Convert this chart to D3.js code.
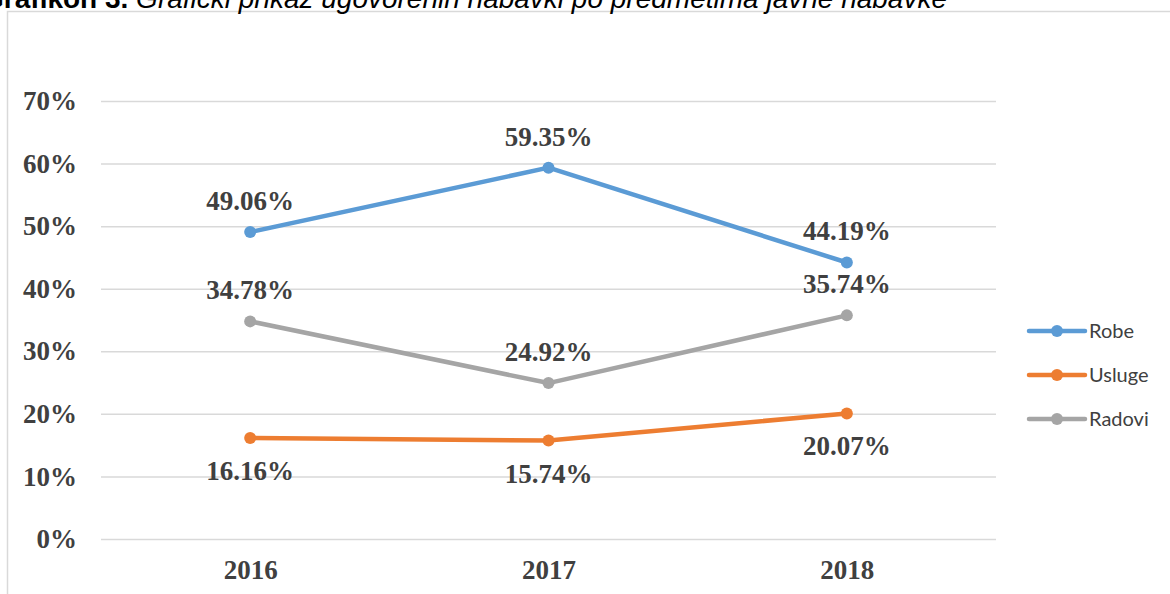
<!DOCTYPE html>
<html>
<head>
<meta charset="utf-8">
<script src="https://cdn.jsdelivr.net/npm/d3@7"></script>
<style>
  html, body { margin: 0; padding: 0; background: #fff; overflow: hidden; }
  svg { display: block; }
</style>
</head>
<body>
<svg id="chart" width="1170" height="594"></svg>
<script>
// chart data
var years = ["2016", "2017", "2018"];
var seriesNames = ["Robe", "Usluge", "Radovi"];
var seriesColors = ["#5b9bd5", "#ed7d31", "#a5a5a5"];
var robe = [49.06, 59.35, 44.19];
var usluge = [16.16, 15.74, 20.07];
var radovi = [34.78, 24.92, 35.74];
var labelBelow = [false, true, false];
var yTicks = [0, 10, 20, 30, 40, 50, 60, 70];

var series = [robe, usluge, radovi].map(function(vals, i) {
    return {
        name: seriesNames[i],
        color: seriesColors[i],
        below: labelBelow[i],
        values: vals.map(function(v, j) { return {year: years[j], value: v}; })
    };
});

var svg = d3.select("#chart"),
    txtColor = "#404040",
    serif = "'Liberation Serif', 'Times New Roman', serif";

// outer frame of the chart area
svg.append("rect")
    .attr("x", 7.5).attr("y", 11.5)
    .attr("width", 1200).attr("height", 700)
    .attr("fill", "none")
    .attr("stroke", "#d9d9d9")
    .attr("stroke-width", 1.5);

// title (cropped at the top like the source)
var title = svg.append("text")
    .attr("y", 8)
    .attr("font-family", "'Liberation Sans', Arial, sans-serif")
    .attr("font-size", 28)
    .attr("fill", "#000");
title.append("tspan").attr("font-weight", "bold").text("Grafikon 3. ");
title.append("tspan").attr("font-style", "italic")
    .text("Grafički prikaz ugovorenih nabavki po predmetima javne nabavke");
var fullLen = title.node().getComputedTextLength();
title.attr("x", 947 - fullLen);

var x = d3.scalePoint().domain(years).range([101, 996]).padding(0.5),
    y = d3.scaleLinear().domain([0, 70]).range([539, 101]);

// gridlines
svg.append("g").selectAll("line")
    .data(yTicks)
    .join("line")
        .attr("x1", 101).attr("x2", 996)
        .attr("y1", function(d) { return y(d) + 0.5; })
        .attr("y2", function(d) { return y(d) + 0.5; })
        .attr("stroke", "#d9d9d9")
        .attr("stroke-width", 1.5);

// y axis
var yAxis = svg.append("g")
    .attr("transform", "translate(91,0)")
    .call(d3.axisLeft(y).tickValues(yTicks).tickSize(0).tickPadding(14)
        .tickFormat(function(d) { return d + "%"; }));
yAxis.select(".domain").remove();
yAxis.selectAll("text")
    .attr("font-family", serif)
    .attr("font-size", 27)
    .attr("font-weight", "bold")
    .attr("fill", txtColor);

// x axis
var xAxis = svg.append("g")
    .attr("transform", "translate(0,539)")
    .call(d3.axisBottom(x).tickSize(0).tickPadding(21));
xAxis.select(".domain").remove();
xAxis.selectAll("text")
    .attr("font-family", serif)
    .attr("font-size", 27)
    .attr("font-weight", "bold")
    .attr("fill", txtColor);

var line = d3.line()
    .x(function(d) { return x(d.year); })
    .y(function(d) { return y(d.value); });

var g = svg.append("g").selectAll("g")
    .data(series)
    .join("g");

g.append("path")
    .attr("d", function(d) { return line(d.values); })
    .attr("fill", "none")
    .attr("stroke", function(d) { return d.color; })
    .attr("stroke-width", 4.5)
    .attr("stroke-linejoin", "round")
    .attr("stroke-linecap", "round");

g.selectAll("circle")
    .data(function(d) { return d.values.map(function(v) { return {v: v, s: d}; }); })
    .join("circle")
        .attr("cx", function(d) { return x(d.v.year); })
        .attr("cy", function(d) { return y(d.v.value); })
        .attr("r", 6)
        .attr("fill", function(d) { return d.s.color; });

g.selectAll("text.lbl")
    .data(function(d) { return d.values.map(function(v) { return {v: v, s: d}; }); })
    .join("text")
        .attr("class", "lbl")
        .attr("x", function(d) { return x(d.v.year); })
        .attr("y", function(d) { return y(d.v.value) + (d.s.below ? 42 : -22); })
        .attr("text-anchor", "middle")
        .attr("font-family", serif)
        .attr("font-size", 27)
        .attr("font-weight", "bold")
        .attr("fill", txtColor)
        .text(function(d) { return d.v.value.toFixed(2) + "%"; });

// legend
var legend = svg.append("g").selectAll("g")
    .data(series)
    .join("g")
        .attr("transform", function(d, i) { return "translate(1029," + (331 + i * 44) + ")"; });

legend.append("line")
    .attr("x1", 0).attr("x2", 56)
    .attr("stroke", function(d) { return d.color; })
    .attr("stroke-width", 4.5)
    .attr("stroke-linecap", "round");
legend.append("circle")
    .attr("cx", 28).attr("r", 6)
    .attr("fill", function(d) { return d.color; });
legend.append("text")
    .attr("x", 60)
    .attr("dy", "0.35em")
    .attr("font-family", "Lato, 'Open Sans', sans-serif")
    .attr("font-size", 20)
    .attr("fill", txtColor)
    .text(function(d) { return d.name; });
</script>
</body>
</html>
